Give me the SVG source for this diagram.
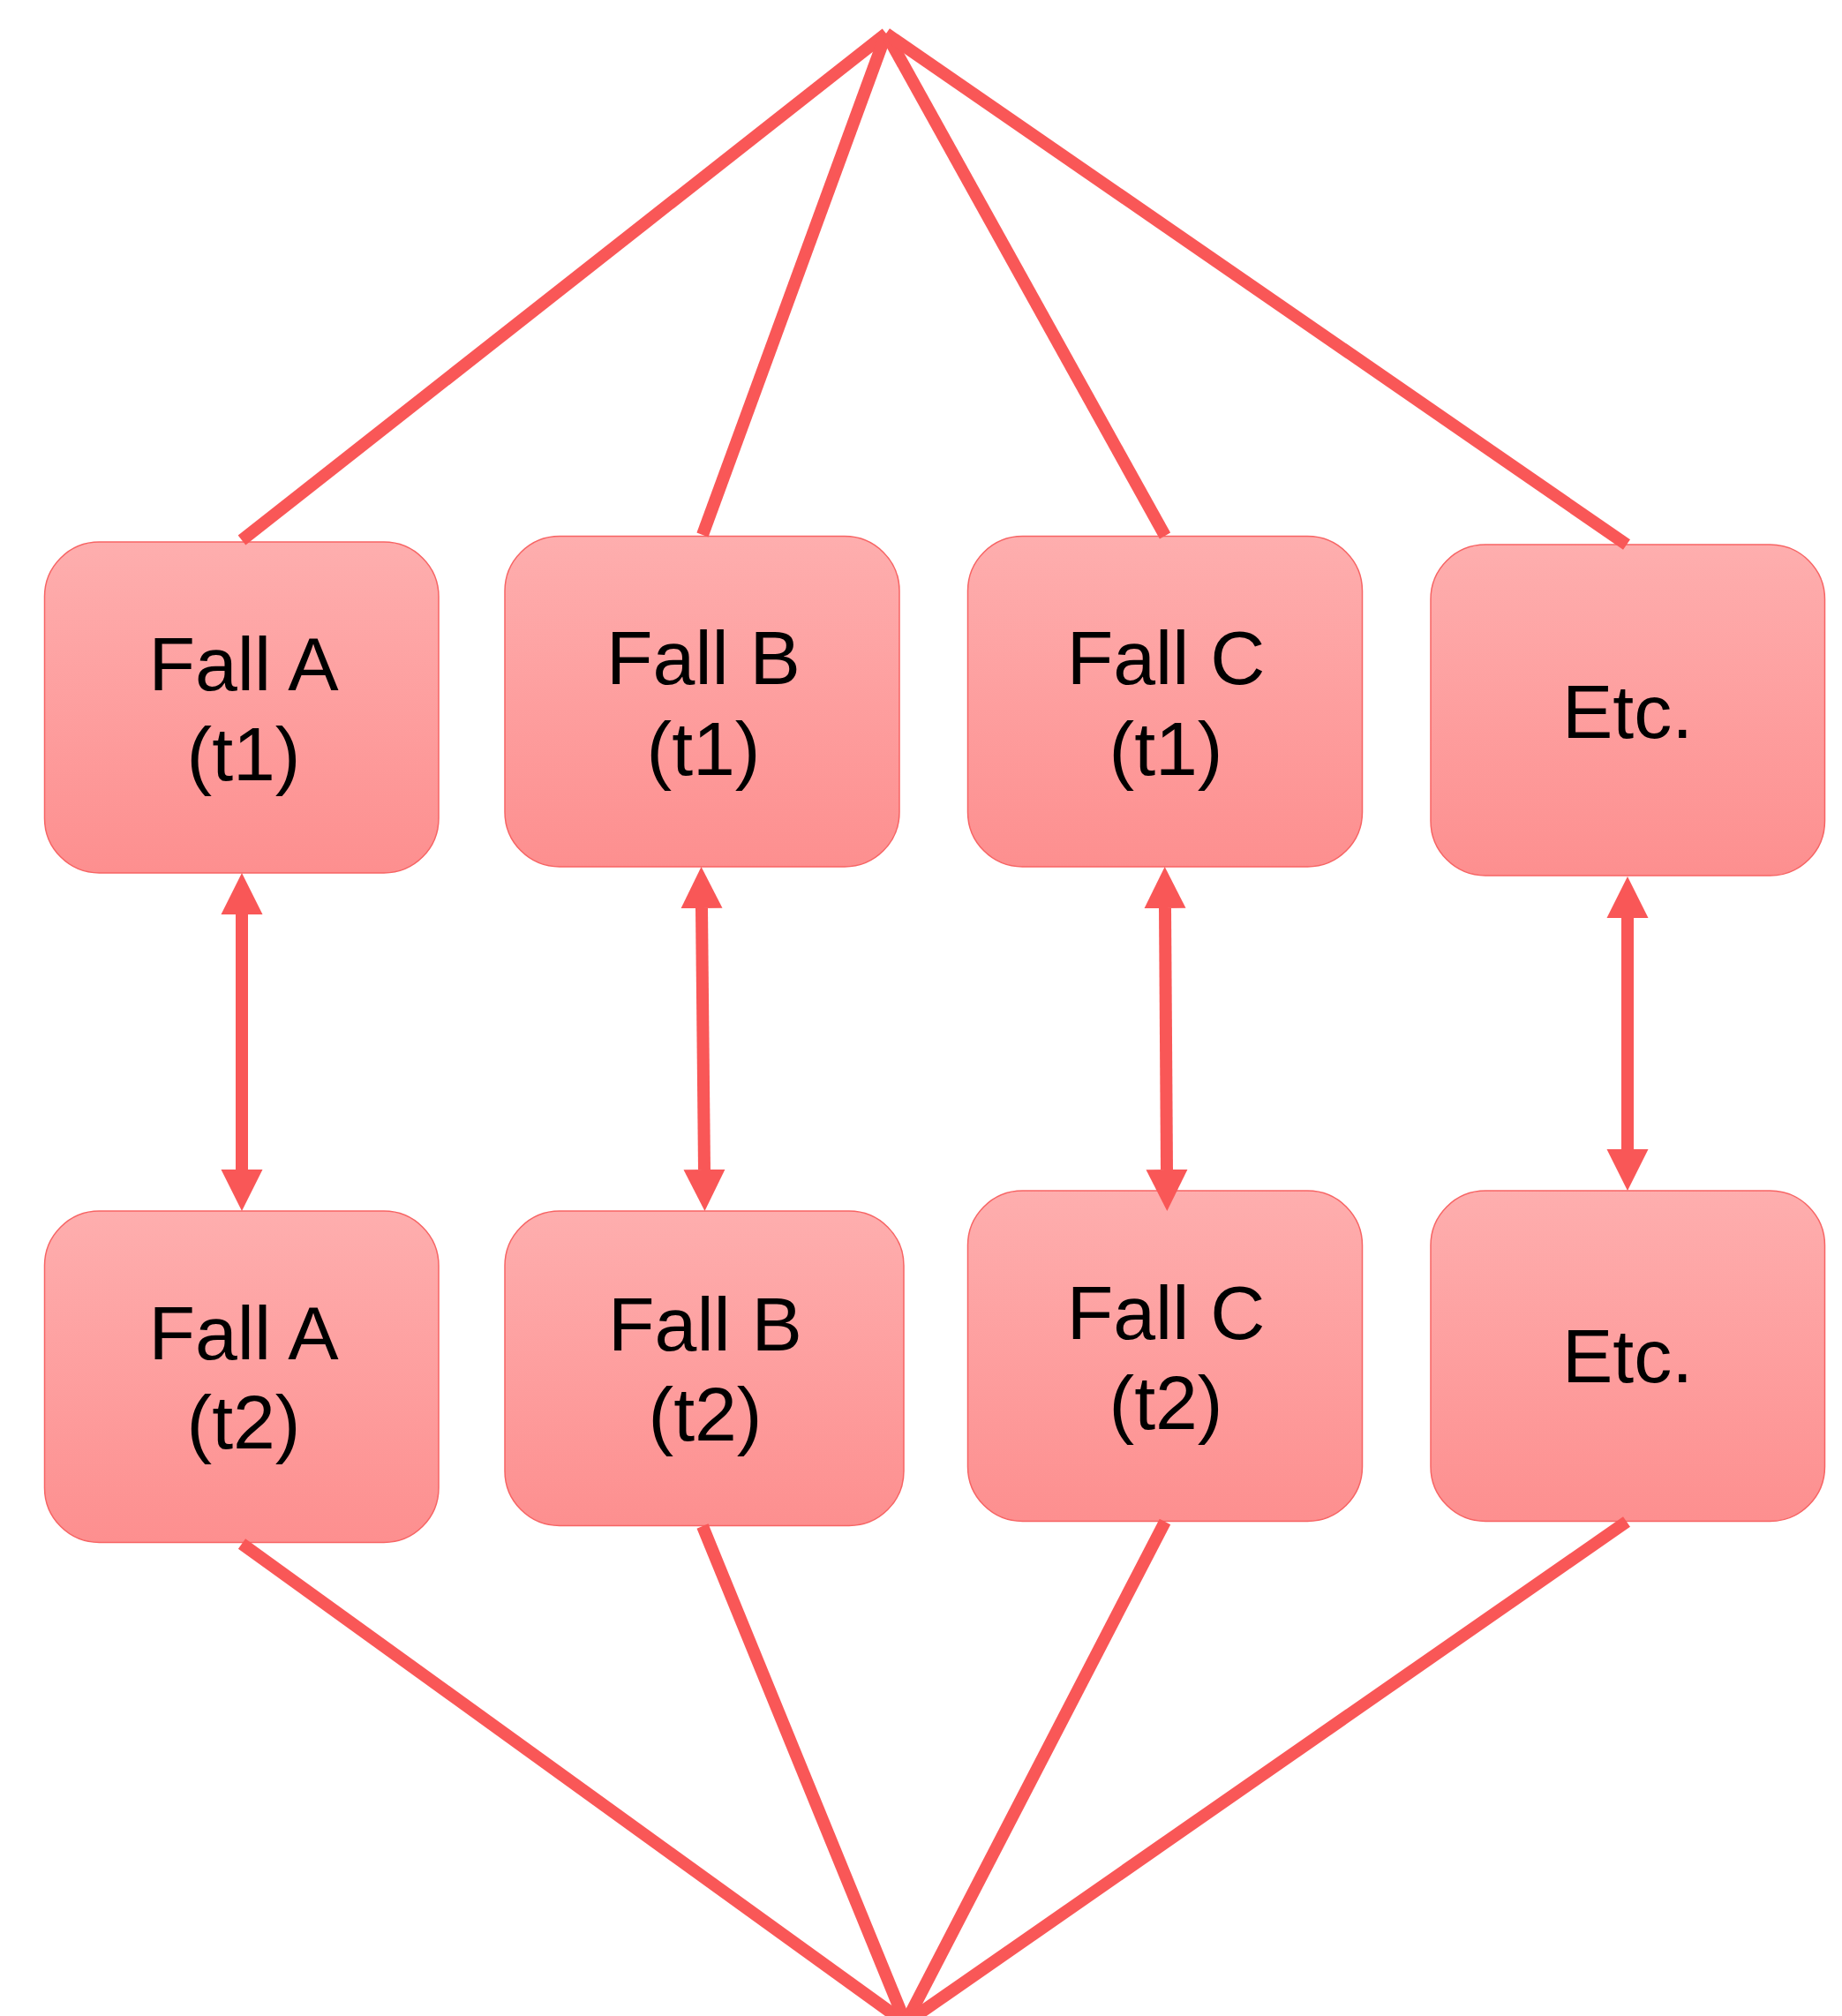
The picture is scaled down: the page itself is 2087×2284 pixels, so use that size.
<svg xmlns="http://www.w3.org/2000/svg" width="2087" height="2284" viewBox="0 0 2087 2284">
<defs>
<linearGradient id="boxGrad" x1="0" y1="0" x2="0" y2="1">
<stop offset="0" stop-color="#FEAEAE"/>
<stop offset="1" stop-color="#FD8F8F"/>
</linearGradient>
<marker id="head" markerUnits="userSpaceOnUse" markerWidth="48" markerHeight="48" viewBox="0 -24 48 48" refX="0" refY="0" orient="auto-start-reverse">
<path d="M0,-23.5 L47,0 L0,23.5 Z" fill="#F95757"/>
</marker>
<style>
.box{fill:url(#boxGrad);stroke:#F76464;stroke-width:1.5}
.lbl{font-family:"Liberation Sans",Arial,sans-serif;font-size:86px;fill:#000;text-anchor:middle}
.ln{stroke:#F95757;stroke-width:14;fill:none;stroke-linecap:butt}
.dbl{stroke:#F95757;stroke-width:14;fill:none;marker-start:url(#head);marker-end:url(#head)}
</style>
</defs>
<rect width="2087" height="2284" fill="#FFFFFF"/>
<g id="nodes">
<g id="fallA_t1"><rect class="box" x="50.5" y="614" width="446.5" height="375" rx="62" ry="62"/><text class="lbl" x="276" y="782">Fall A</text><text class="lbl" x="276" y="884">(t1)</text></g>
<g id="fallB_t1"><rect class="box" x="572" y="607.5" width="447" height="374.5" rx="62" ry="62"/><text class="lbl" x="797" y="775">Fall B</text><text class="lbl" x="797" y="878">(t1)</text></g>
<g id="fallC_t1"><rect class="box" x="1096.5" y="607.5" width="447" height="374.5" rx="62" ry="62"/><text class="lbl" x="1321" y="775">Fall C</text><text class="lbl" x="1321" y="878">(t1)</text></g>
<g id="etc_t1"><rect class="box" x="1621" y="617" width="446.5" height="375" rx="62" ry="62"/><text class="lbl" x="1844" y="836">Etc.</text></g>
<g id="fallA_t2"><rect class="box" x="50.5" y="1372" width="446.5" height="375.5" rx="62" ry="62"/><text class="lbl" x="276" y="1540">Fall A</text><text class="lbl" x="276" y="1641">(t2)</text></g>
<g id="fallB_t2"><rect class="box" x="572" y="1372" width="452" height="356.5" rx="62" ry="62"/><text class="lbl" x="799" y="1530">Fall B</text><text class="lbl" x="799" y="1632">(t2)</text></g>
<g id="fallC_t2"><rect class="box" x="1096.5" y="1349" width="447" height="374.5" rx="62" ry="62"/><text class="lbl" x="1321" y="1517">Fall C</text><text class="lbl" x="1321" y="1619">(t2)</text></g>
<g id="etc_t2"><rect class="box" x="1621" y="1349" width="446.5" height="374.5" rx="62" ry="62"/><text class="lbl" x="1844" y="1566">Etc.</text></g>
</g>
<g id="connectors">
<line class="ln" x1="1004" y1="38" x2="274" y2="612"/>
<line class="ln" x1="1004" y1="38" x2="796" y2="606"/>
<line class="ln" x1="1004" y1="38" x2="1320" y2="607"/>
<line class="ln" x1="1004" y1="38" x2="1843" y2="617"/>
<line class="ln" x1="274" y1="1749" x2="1026" y2="2292"/>
<line class="ln" x1="796" y1="1729" x2="1026" y2="2292"/>
<line class="ln" x1="1320" y1="1724" x2="1026" y2="2292"/>
<line class="ln" x1="1843" y1="1724" x2="1026" y2="2292"/>
<line class="dbl" x1="274" y1="1036" x2="274" y2="1325"/>
<line class="dbl" x1="795" y1="1029" x2="798" y2="1325"/>
<line class="dbl" x1="1320" y1="1029" x2="1322" y2="1325"/>
<line class="dbl" x1="1844" y1="1040" x2="1844" y2="1302"/>
</g>
</svg>
